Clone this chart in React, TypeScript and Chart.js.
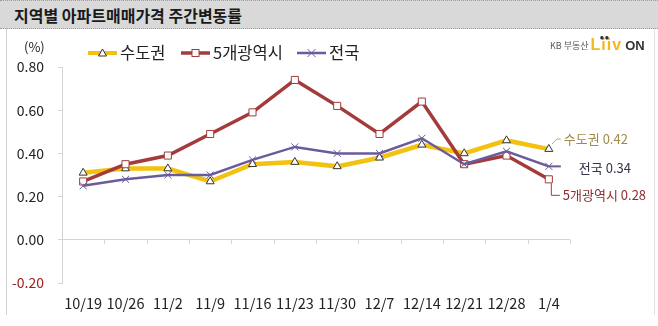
import React, { useEffect, useRef } from 'react';
import { Chart, registerables } from 'chart.js';
Chart.register(...registerables);

const categories = ['10/19', '10/26', '11/2', '11/9', '11/16', '11/23', '11/30', '12/7', '12/14', '12/21', '12/28', '1/4'];
const seriesNames = ['수도권', '5개광역시', '전국'];
const capitalArea = [0.31, 0.33, 0.33, 0.27, 0.35, 0.36, 0.34, 0.38, 0.44, 0.40, 0.46, 0.42];
const fiveMetro = [0.27, 0.35, 0.39, 0.49, 0.59, 0.74, 0.62, 0.49, 0.64, 0.35, 0.39, 0.28];
const nationwide = [0.25, 0.28, 0.30, 0.30, 0.37, 0.43, 0.40, 0.40, 0.47, 0.35, 0.41, 0.34];
const yMin = -0.2;
const yMax = 0.8;
const yStep = 0.2;

const FONT = '"Noto Sans CJK KR", "Noto Sans", sans-serif';
const YELLOW = '#F2C20E';
const RED = '#A43B3B';
const PURPLE = '#6C5B9B';

const overlay = {
  id: 'overlay',
  afterDatasetsDraw(chart: any) {
    const ctx = chart.ctx as CanvasRenderingContext2D;
    const xs = chart.scales.x;
    const ys = chart.scales.y;
    const y0 = ys.getPixelForValue(0);
    const n = categories.length;
    ctx.save();
    ctx.strokeStyle = '#d4d4d4';
    ctx.lineWidth = 1;
    for (let i = 1; i <= n; i++) {
      const px = Math.round(xs.left + ((xs.right - xs.left) * i) / n) + 0.5;
      ctx.beginPath();
      ctx.moveTo(px, y0);
      ctx.lineTo(px, y0 + 4);
      ctx.stroke();
    }
    const last = n - 1;
    const px = xs.getPixelForValue(last);
    ctx.font = `13px ${FONT}`;
    ctx.textBaseline = 'middle';
    ctx.textAlign = 'left';
    const pyY = ys.getPixelForValue(capitalArea[last]);
    ctx.strokeStyle = '#C9A84A';
    ctx.lineWidth = 1;
    ctx.beginPath();
    ctx.moveTo(px + 3, pyY - 5);
    ctx.lineTo(px + 8, pyY - 10);
    ctx.lineTo(px + 12, pyY - 10);
    ctx.stroke();
    ctx.fillStyle = '#A08A4C';
    ctx.fillText(`${seriesNames[0]} ${capitalArea[last].toFixed(2)}`, px + 15, pyY - 10);
    const pyP = ys.getPixelForValue(nationwide[last]);
    ctx.strokeStyle = PURPLE;
    ctx.lineWidth = 2;
    ctx.beginPath();
    ctx.moveTo(px, pyP);
    ctx.lineTo(px + 12, pyP);
    ctx.stroke();
    ctx.fillStyle = '#33334a';
    ctx.fillText(`${seriesNames[2]} ${nationwide[last].toFixed(2)}`, px + 30, pyP + 2);
    const pyR = ys.getPixelForValue(fiveMetro[last]);
    ctx.strokeStyle = RED;
    ctx.lineWidth = 1;
    ctx.beginPath();
    ctx.moveTo(px + 2.5, pyR + 4);
    ctx.lineTo(px + 2.5, pyR + 16);
    ctx.lineTo(px + 11, pyR + 16);
    ctx.stroke();
    ctx.fillStyle = '#8B2E2E';
    ctx.fillText(`${seriesNames[1]} ${fiveMetro[last].toFixed(2)}`, px + 14, pyR + 16);
    ctx.restore();
  },
  afterDraw(chart: any) {
    const ctx = chart.ctx as CanvasRenderingContext2D;
    ctx.save();
    ctx.font = `13px ${FONT}`;
    ctx.fillStyle = '#222';
    ctx.textBaseline = 'middle';
    ctx.textAlign = 'left';
    ctx.fillText('(%)', 24, 47);
    const ly = 53;
    const items = [
      { x: 88, color: YELLOW, width: 4, marker: 'tri', label: seriesNames[0] },
      { x: 181, color: RED, width: 3.5, marker: 'rect', label: seriesNames[1] },
      { x: 297, color: PURPLE, width: 2.5, marker: 'x', label: seriesNames[2] },
    ];
    ctx.font = `16.5px ${FONT}`;
    for (const it of items) {
      ctx.strokeStyle = it.color;
      ctx.lineWidth = it.width;
      ctx.beginPath();
      ctx.moveTo(it.x, ly);
      ctx.lineTo(it.x + 29, ly);
      ctx.stroke();
      const cx = it.x + 14.5;
      ctx.lineWidth = 1;
      if (it.marker === 'tri') {
        ctx.fillStyle = '#fff';
        ctx.strokeStyle = '#333';
        ctx.beginPath();
        ctx.moveTo(cx, ly - 4);
        ctx.lineTo(cx + 4, ly + 3);
        ctx.lineTo(cx - 4, ly + 3);
        ctx.closePath();
        ctx.fill();
        ctx.stroke();
      } else if (it.marker === 'rect') {
        ctx.fillStyle = '#fff';
        ctx.strokeStyle = RED;
        ctx.fillRect(cx - 3.5, ly - 3.5, 7, 7);
        ctx.strokeRect(cx - 3.5, ly - 3.5, 7, 7);
      } else {
        ctx.strokeStyle = PURPLE;
        ctx.beginPath();
        ctx.moveTo(cx - 4, ly - 4);
        ctx.lineTo(cx + 4, ly + 4);
        ctx.moveTo(cx + 4, ly - 4);
        ctx.lineTo(cx - 4, ly + 4);
        ctx.stroke();
      }
      ctx.fillStyle = '#222';
      ctx.fillText(it.label, it.x + 32, ly);
    }
    ctx.restore();
  },
};

export default function App() {
  const ref = useRef<HTMLCanvasElement>(null);
  useEffect(() => {
    document.body.style.margin = '0';
    const chart = new Chart(ref.current!, {
      type: 'line',
      data: {
        labels: categories,
        datasets: [
          {
            label: seriesNames[0],
            data: capitalArea,
            borderColor: YELLOW,
            borderWidth: 4.5,
            pointStyle: 'triangle',
            pointRadius: 4.6,
            pointBackgroundColor: '#fff',
            pointBorderColor: '#333',
            pointBorderWidth: 1,
            tension: 0,
            order: 2,
          },
          {
            label: seriesNames[1],
            data: fiveMetro,
            borderColor: RED,
            borderWidth: 3.5,
            pointStyle: 'rect',
            pointRadius: 5,
            pointBackgroundColor: '#fff',
            pointBorderColor: RED,
            pointBorderWidth: 1,
            tension: 0,
            order: 1,
          },
          {
            label: seriesNames[2],
            data: nationwide,
            borderColor: PURPLE,
            borderWidth: 2.5,
            pointStyle: 'crossRot',
            pointRadius: 5,
            pointBorderColor: PURPLE,
            pointBorderWidth: 1,
            tension: 0,
            order: 0,
          },
        ],
      },
      options: {
        responsive: false,
        animation: false,
        layout: { padding: { left: 0, right: 88, top: 67, bottom: 0 } },
        plugins: { legend: { display: false }, tooltip: { enabled: false } },
        scales: {
          x: {
            offset: true,
            grid: { display: false },
            border: { display: false },
            ticks: {
              font: { family: FONT, size: 14.5 },
              color: '#222',
              padding: 4,
              maxRotation: 0,
              autoSkip: false,
            },
            afterFit: (s: any) => {
              s.height = 43;
            },
          },
          y: {
            min: yMin,
            max: yMax,
            grid: {
              color: (c: any) => (c.tick && c.tick.value === 0 ? '#d4d4d4' : 'transparent'),
              drawTicks: true,
              tickLength: 4,
              tickColor: '#d4d4d4',
            },
            border: { display: true, color: '#d4d4d4' },
            ticks: {
              stepSize: yStep,
              font: { family: FONT, size: 14 },
              color: (c: any) => (c.tick && c.tick.value < 0 ? '#A02020' : '#222'),
              padding: 14,
              callback: (v: any) => Number(v).toFixed(2),
            },
            afterFit: (s: any) => {
              s.width = 62;
            },
          },
        },
      },
      plugins: [overlay],
    });
    return () => chart.destroy();
  }, []);

  return (
    <div style={{ position: 'relative', width: 658, height: 326, background: '#fff', overflow: 'hidden', fontFamily: FONT }}>
      <div
        style={{
          position: 'absolute', left: 0, top: 0, width: 658, height: 29, background: '#d9d9d9',
          borderTop: '1px dotted #999', borderBottom: '1px dotted #999', boxSizing: 'border-box',
        }}
      >
        <span style={{ position: 'absolute', left: 14, top: 2, fontSize: 16, fontWeight: 'bold', color: '#1a1a1a', whiteSpace: 'nowrap' }}>
          지역별 아파트매매가격 주간변동률
        </span>
      </div>
      <div style={{ position: 'absolute', left: 6, top: 29, width: 649, height: 286, borderLeft: '1px solid #d0d0d0', borderRight: '1px solid #e0e0e0', boxSizing: 'border-box' }} />
      <canvas ref={ref} width={658} height={326} style={{ position: 'absolute', left: 0, top: 0, width: 658, height: 326 }} />
      <div style={{ position: 'absolute', left: 550, top: 36, height: 18, display: 'flex', alignItems: 'center', whiteSpace: 'nowrap' }}>
        <span style={{ fontSize: 9, color: '#555', marginRight: 2 }}>KB 부동산</span>
        <span style={{ position: 'relative', fontSize: 16, fontWeight: 900, color: '#F3B81C', letterSpacing: 1, fontFamily: 'Arial, "Liberation Sans", sans-serif' }}>
          Liiv
          <span style={{ position: 'absolute', left: 9, top: -3, fontSize: 8, color: '#333', letterSpacing: 0 }}>●●</span>
        </span>
        <span style={{ fontSize: 13, fontWeight: 'bold', color: '#333', marginLeft: 3, fontFamily: 'Arial, "Liberation Sans", sans-serif' }}>ON</span>
      </div>
    </div>
  );
}
